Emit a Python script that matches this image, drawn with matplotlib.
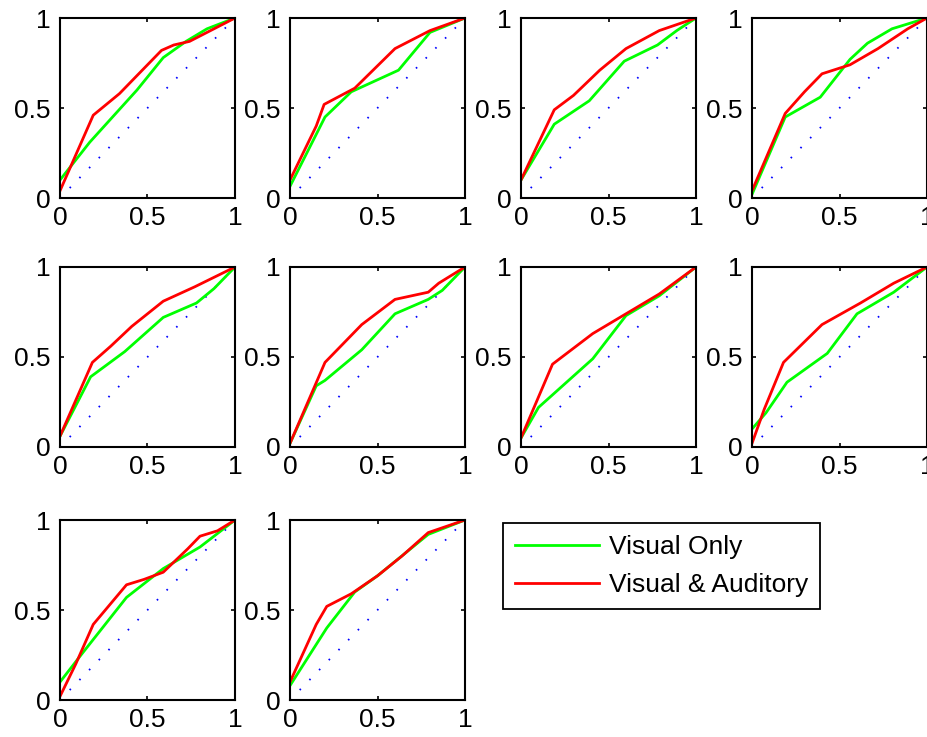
import matplotlib
matplotlib.use("Agg")
import matplotlib.pyplot as plt

plt.rcParams['font.family'] = ['Liberation Sans', 'DejaVu Sans']

# ROC-like curves: (false alarm rate, hit rate)
visual_x = [
    [0, 0.17, 0.44, 0.59, 0.72, 0.84, 1],
    [0, 0.20, 0.35, 0.62, 0.80, 1],
    [0, 0.19, 0.39, 0.59, 0.78, 0.89, 1],
    [0, 0.19, 0.39, 0.56, 0.66, 0.80, 1],
    [0, 0.175, 0.37, 0.59, 0.78, 0.88, 1],
    [0, 0.15, 0.20, 0.41, 0.60, 0.79, 0.87, 1],
    [0, 0.10, 0.41, 0.60, 0.79, 1],
    [0, 0.08, 0.20, 0.43, 0.60, 0.81, 1],
    [0, 0.12, 0.38, 0.59, 0.80, 1],
    [0, 0.21, 0.37, 0.50, 0.79, 1],
]
visual_y = [
    [0.10, 0.31, 0.60, 0.78, 0.87, 0.94, 1],
    [0.065, 0.45, 0.59, 0.71, 0.92, 1],
    [0.10, 0.41, 0.54, 0.76, 0.85, 0.93, 1],
    [0.02, 0.45, 0.56, 0.77, 0.86, 0.94, 1],
    [0.06, 0.39, 0.53, 0.72, 0.80, 0.88, 1],
    [0.02, 0.34, 0.37, 0.54, 0.74, 0.82, 0.87, 1],
    [0.05, 0.22, 0.49, 0.73, 0.84, 1],
    [0.10, 0.19, 0.36, 0.52, 0.74, 0.86, 1],
    [0.10, 0.25, 0.57, 0.73, 0.85, 1],
    [0.08, 0.40, 0.60, 0.69, 0.92, 1],
]
audvis_x = [
    [0, 0.19, 0.34, 0.58, 0.65, 0.74, 0.84, 1],
    [0, 0.15, 0.195, 0.37, 0.60, 0.80, 1],
    [0, 0.19, 0.30, 0.45, 0.60, 0.79, 1],
    [0, 0.19, 0.30, 0.40, 0.56, 0.72, 0.89, 1],
    [0, 0.185, 0.29, 0.41, 0.59, 0.77, 1],
    [0, 0.20, 0.41, 0.60, 0.79, 0.85, 1],
    [0, 0.18, 0.41, 0.60, 0.79, 1],
    [0, 0.07, 0.18, 0.40, 0.62, 0.81, 1],
    [0, 0.09, 0.19, 0.38, 0.48, 0.59, 0.73, 0.80, 0.90, 1],
    [0, 0.15, 0.21, 0.35, 0.50, 0.64, 0.79, 1],
]
audvis_y = [
    [0.04, 0.46, 0.58, 0.82, 0.85, 0.87, 0.92, 1],
    [0.10, 0.40, 0.52, 0.61, 0.83, 0.93, 1],
    [0.10, 0.49, 0.57, 0.71, 0.83, 0.93, 1],
    [0.04, 0.47, 0.59, 0.69, 0.74, 0.83, 0.94, 1],
    [0.06, 0.47, 0.56, 0.67, 0.81, 0.89, 1],
    [0.02, 0.47, 0.68, 0.82, 0.86, 0.91, 1],
    [0.05, 0.46, 0.63, 0.74, 0.85, 1],
    [0.02, 0.21, 0.47, 0.68, 0.80, 0.91, 1],
    [0.02, 0.20, 0.42, 0.64, 0.67, 0.71, 0.84, 0.91, 0.94, 1],
    [0.10, 0.42, 0.52, 0.59, 0.69, 0.80, 0.93, 1],
]
chance = [0, 1]
ticks = [0, 0.5, 1]
tick_labels = ['0', '0.5', '1']
labels = ['Visual Only', 'Visual & Auditory']

W, H = 927, 737
fig = plt.figure(figsize=(W / 100, H / 100), dpi=100)

col_left = [60, 290, 521, 752]
row_top = [18, 267, 520]
aw, ah = 175, 180

for i in range(10):
    r, c = divmod(i, 4)
    ax = fig.add_axes([col_left[c] / W, 1 - (row_top[r] + ah) / H, aw / W, ah / H])
    ax.plot(chance, chance, color='#0000ff', lw=1.3, linestyle=(0, (0.9, 6.8)))
    g, = ax.plot(visual_x[i], visual_y[i], color='#00ff00', lw=2.0)
    rd, = ax.plot(audvis_x[i], audvis_y[i], color='#ff0000', lw=2.0)
    ax.set_xlim(0, 1)
    ax.set_ylim(0, 1)
    ax.set_xticks(ticks)
    ax.set_xticklabels(tick_labels)
    ax.set_yticks(ticks)
    ax.set_yticklabels(tick_labels)
    ax.tick_params(direction='in', length=3, width=1.2, labelsize=19,
                   top=True, right=True)
    ax.tick_params(axis='x', pad=6)
    ax.tick_params(axis='y', pad=7)
    for s in ax.spines.values():
        s.set_linewidth(1.5)

leg = fig.legend([g, rd], labels, loc='upper left',
                 bbox_to_anchor=(503 / W, 1 - 523 / H), fontsize=19,
                 fancybox=False, edgecolor='black', framealpha=1,
                 handlelength=3.2, borderpad=0.45, labelspacing=0.55,
                 handletextpad=0.35, borderaxespad=0)
leg.get_frame().set_linewidth(1.3)

fig.savefig('out.png', dpi=100)
